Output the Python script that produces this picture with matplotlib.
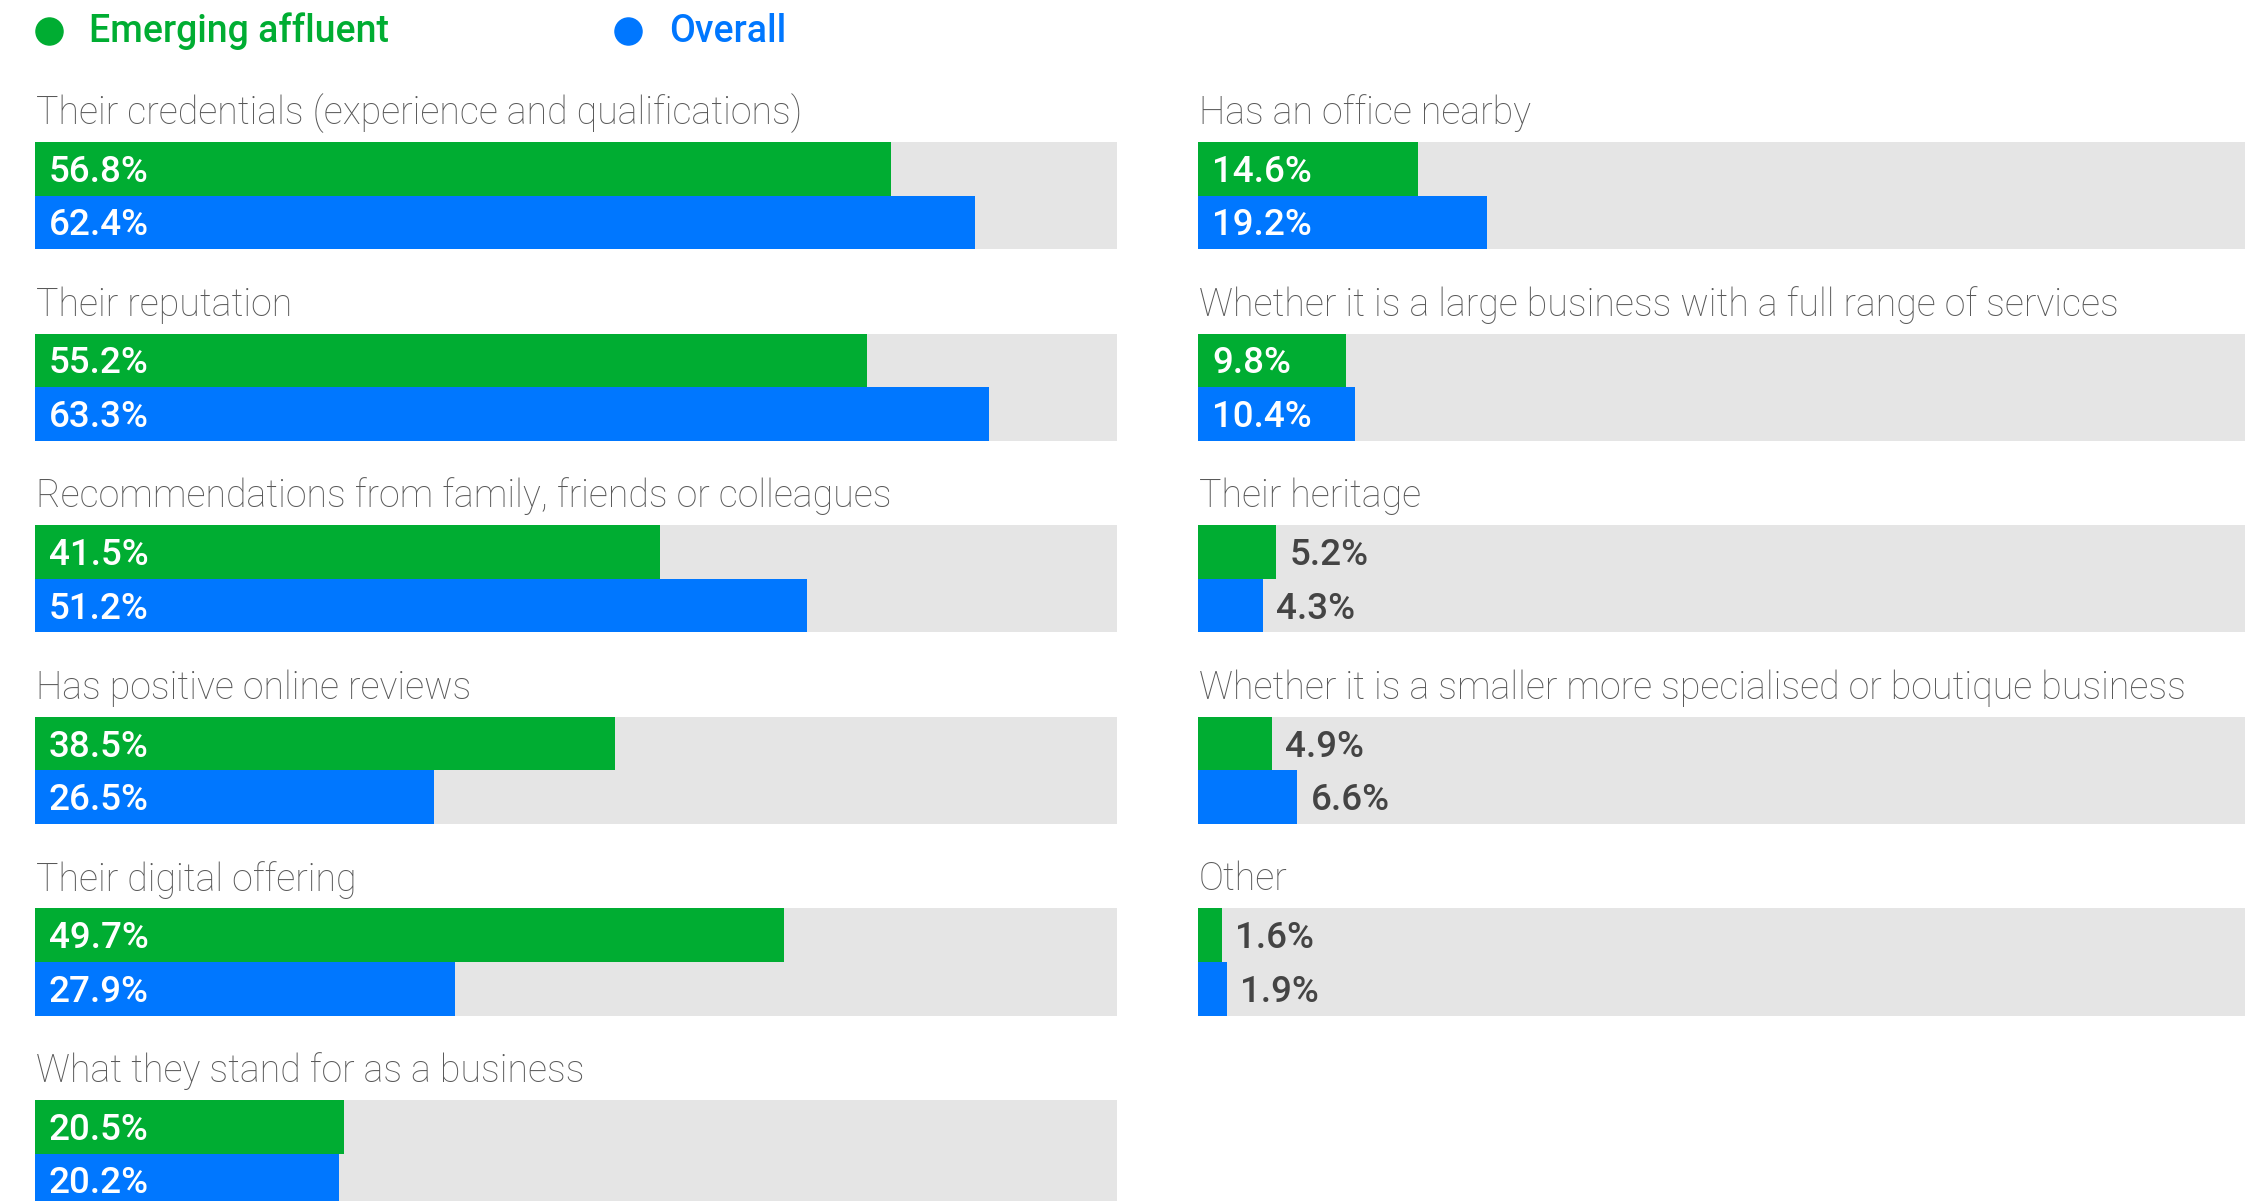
import matplotlib
matplotlib.use('Agg')
import matplotlib.pyplot as plt
from matplotlib import font_manager
from matplotlib.lines import Line2D

left_labels = ['Their credentials (experience and qualifications)', 'Their reputation',
               'Recommendations from family, friends or colleagues', 'Has positive online reviews',
               'Their digital offering', 'What they stand for as a business']
left_emerging = [56.8, 55.2, 41.5, 38.5, 49.7, 20.5]
left_overall = [62.4, 63.3, 51.2, 26.5, 27.9, 20.2]

right_labels = ['Has an office nearby', 'Whether it is a large business with a full range of services',
                'Their heritage', 'Whether it is a smaller more specialised or boutique business', 'Other']
right_emerging = [14.6, 9.8, 5.2, 4.9, 1.6]
right_overall = [19.2, 10.4, 4.3, 6.6, 1.9]

series_names = ['Emerging affluent', 'Overall']

GREEN = '#00ad32'
BLUE = '#0077ff'
GREY_BG = '#e5e5e5'
LABEL_C = '#595959'
VALUE_DARK = '#444444'
SCALE_MAX = 71.8

# condensed font if there is one, else Roboto
names = {f.name for f in font_manager.fontManager.ttflist}
if 'Liberation Sans Narrow' in names:
    FONT = 'Liberation Sans Narrow'
    lab_size, val_size, leg_size = 27, 26, 28
    lab_w = 'normal'
else:
    FONT = 'Roboto'
    lab_size, val_size, leg_size = 27, 26.5, 27
    lab_w = 'light'
plt.rcParams['font.family'] = [FONT, 'DejaVu Sans']

W, H = 2245, 1201
fig = plt.figure(figsize=(W / 100, H / 100), dpi=100)

pitch = 191.6          # px between groups
bar_h = 53.6 / pitch   # bar height in group units
first_center = 168.8   # px, centre of first green bar
y_top = -first_center / pitch
y_bot = (H - first_center) / pitch


def draw_column(x0_px, x1_px, labels, emerging, overall):
    ax = fig.add_axes([x0_px / W, 0, (x1_px - x0_px) / W, 1])
    ax.set_xlim(0, SCALE_MAX)
    ax.set_ylim(y_bot, y_top)
    ax.axis('off')
    idx = list(range(len(labels)))
    y_green = [i for i in idx]
    y_blue = [i + bar_h for i in idx]
    ax.barh([i + bar_h / 2 for i in idx], [SCALE_MAX] * len(idx), height=2 * bar_h,
            color=GREY_BG, linewidth=0)
    ax.barh(y_green, emerging, height=bar_h, color=GREEN, linewidth=0)
    ax.barh(y_blue, overall, height=bar_h, color=BLUE, linewidth=0)
    for i in idx:
        ax.text(0.05, i - 0.29, labels[i], color=LABEL_C, fontsize=lab_size,
                fontweight=lab_w, va='center', ha='left')
        for y, v in ((y_green[i], emerging[i]), (y_blue[i], overall[i])):
            if v >= 8:
                ax.annotate(f'{v:.1f}%', xy=(0, y), xytext=(10, -2.5), textcoords='offset points',
                            color='white', fontsize=val_size, fontweight='medium',
                            va='center', ha='left')
            else:
                ax.annotate(f'{v:.1f}%', xy=(v, y), xytext=(9.5, -2.5), textcoords='offset points',
                            color=VALUE_DARK, fontsize=val_size, fontweight='medium',
                            va='center', ha='left')
    return ax


draw_column(35, 1117, left_labels, left_emerging, left_overall)
draw_column(1198, 2280, right_labels, right_emerging, right_overall)

# legend along the top
for (cx, tx, col, name) in ((49, 89, GREEN, series_names[0]), (628, 669, BLUE, series_names[1])):
    fig.add_artist(Line2D([cx / W], [1 - 31 / H], marker='o', markersize=19.5,
                          color=col, linestyle='none', transform=fig.transFigure))
    fig.text(tx / W, 1 - 31 / H, name, color=col, fontsize=leg_size, fontweight='medium',
             va='center', ha='left')

fig.savefig('out.png', dpi=100)
